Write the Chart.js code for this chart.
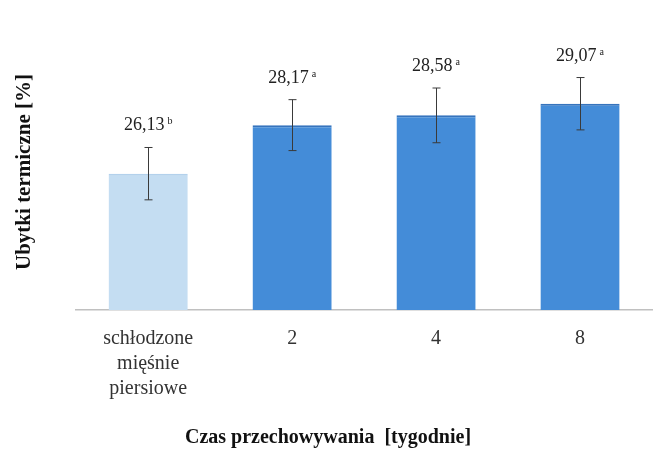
<!DOCTYPE html>
<html lang="pl">
<head>
  <meta charset="utf-8">
  <title>Ubytki termiczne</title>
  <script src="https://cdn.jsdelivr.net/npm/chart.js@4/dist/chart.umd.min.js"></script>
  <style>
    html, body { margin: 0; padding: 0; background: #fff; }
    #wrap { width: 662px; height: 458px; }
  </style>
</head>
<body>
  <div id="wrap"><canvas id="graph"></canvas></div>
  <script>
    // dane: ubytki termiczne [%] w zaleznosci od czasu przechowywania
    const categories = [['schłodzone', 'mięśnie', 'piersiowe'], '2', '4', '8'];
    const values = [26.13, 28.17, 28.58, 29.07];
    const sd = [1.1, 1.07, 1.15, 1.1];
    const letters = ['b', 'a', 'a', 'a'];
    const valueLabels = ['26,13', '28,17', '28,58', '29,07'];
    const xTitle = 'Czas przechowywania  [tygodnie]';

    const serif = '"Liberation Serif", "DejaVu Serif", serif';

    // slupki bledu + etykiety wartosci nad nimi
    const errorBars = {
      id: 'errorBars',
      afterDatasetsDraw(chart) {
        const ctx = chart.ctx;
        const y = chart.scales.y;
        const meta = chart.getDatasetMeta(0);
        ctx.save();
        ctx.strokeStyle = '#3a3a3a';
        ctx.lineWidth = 1;
        meta.data.forEach((bar, i) => {
          const x = Math.round(bar.x) + 0.5;
          const top = y.getPixelForValue(values[i] + sd[i]);
          const bot = y.getPixelForValue(values[i] - sd[i]);
          ctx.beginPath();
          ctx.moveTo(x, top); ctx.lineTo(x, bot);
          ctx.moveTo(x - 4, top); ctx.lineTo(x + 4, top);
          ctx.moveTo(x - 4, bot); ctx.lineTo(x + 4, bot);
          ctx.stroke();

          // wartosc z indeksem literowym
          ctx.fillStyle = '#222';
          ctx.textBaseline = 'alphabetic';
          ctx.font = '18px ' + serif;
          const w1 = ctx.measureText(valueLabels[i]).width;
          ctx.font = '10px ' + serif;
          const w2 = ctx.measureText(letters[i]).width;
          const start = bar.x - (w1 + 3 + w2) / 2;
          const base = top - 17;
          ctx.font = '18px ' + serif;
          ctx.fillText(valueLabels[i], start, base);
          ctx.font = '10px ' + serif;
          ctx.fillText(letters[i], start + w1 + 3, base - 6);
        });
        ctx.restore();
      },
      // tytul osi X wysrodkowany wzgledem calego wykresu
      afterDraw(chart) {
        const ctx = chart.ctx;
        const sx = chart.scales.x;
        ctx.save();
        ctx.fillStyle = '#111';
        ctx.font = 'bold 20px ' + serif;
        ctx.textAlign = 'center';
        ctx.textBaseline = 'middle';
        ctx.fillText(xTitle, chart.width / 2 - 3, sx.bottom - 11);
        ctx.restore();
      }
    };

    const data = {
      labels: categories,
      datasets: [{
        data: values,
        backgroundColor: ['#c4ddf2', '#448cd8', '#448cd8', '#448cd8'],
        borderColor: ['#b3d1ec', '#3674bd', '#3674bd', '#3674bd'],
        borderWidth: { top: 2, left: 0, right: 0, bottom: 0 },
        borderSkipped: 'bottom',
        barPercentage: 0.55,
        categoryPercentage: 1.0
      }]
    };

    const options = {
      responsive: true,
      maintainAspectRatio: false,
      animation: { duration: 0 },
      layout: { padding: { left: 12, right: 10, top: 34, bottom: 9 } },
      plugins: { legend: { display: false }, tooltip: { enabled: false } },
      scales: {
        x: {
          grid: { display: false },
          border: { display: true, color: '#c0c0c0', width: 1.5 },
          ticks: { color: '#333', font: { family: serif, size: 20, lineHeight: 1.25 }, padding: 8, maxRotation: 0 },
          title: {
            display: true,
            text: xTitle,
            color: 'rgba(0,0,0,0)',
            font: { family: serif, size: 20, weight: 'bold' },
            padding: { top: 16, bottom: 0 }
          }
        },
        y: {
          min: 20.4,
          max: 32,
          grid: { display: false },
          border: { display: false },
          ticks: { display: false },
          title: {
            display: true,
            text: 'Ubytki termiczne [%]',
            color: '#111',
            font: { family: serif, size: 21, weight: 'bold' },
            padding: { top: 0, bottom: 31 }
          }
        }
      }
    };

    new Chart(document.getElementById('graph'), {
      type: 'bar',
      data: data,
      options: options,
      plugins: [errorBars]
    });
  </script>
</body>
</html>
